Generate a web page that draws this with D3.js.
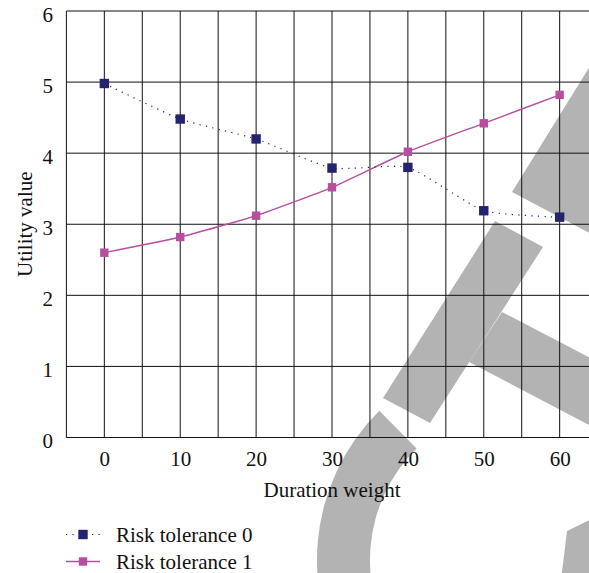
<!DOCTYPE html>
<html>
<head>
<meta charset="utf-8">
<script src="https://cdn.jsdelivr.net/npm/d3@7"></script>
<style>
  html, body { margin: 0; padding: 0; background: #fff; }
  svg { display: block; }
  svg text { font-family: 'Liberation Serif', 'DejaVu Serif', 'Noto Serif', serif !important; font-size: 21px; fill: #111; }
</style>
</head>
<body>
<svg id="chart" width="589" height="573"></svg>
<script>
// ---- data ----
const durationWeights = [0, 10, 20, 30, 40, 50, 60];
const riskTolerance0 = [4.98, 4.48, 4.2, 3.79, 3.8, 3.19, 3.1];
const riskTolerance1 = [2.6, 2.82, 3.12, 3.52, 4.02, 4.42, 4.82];
const seriesNames = ["Risk tolerance 0", "Risk tolerance 1"];
const xTickValues = [0, 10, 20, 30, 40, 50, 60];
const yTickValues = [0, 1, 2, 3, 4, 5, 6];
const xLabel = "Duration weight";
const yLabel = "Utility value";

const svg = d3.select("#chart");

const x = d3.scaleLinear().domain([-5, 65]).range([66.4, 597.6]);
const y = d3.scaleLinear().domain([0, 6]).range([437.5, 11]);

// ---- watermark (decoration behind the chart) ----
const wm = svg.append("g").attr("fill", "#b3b3b3");
const wmPolys = [
  [[631, 0], [512, 192], [650, 265], [650, 0]],
  [[495, 221], [543, 247], [430, 423], [383, 398]],
  [[502, 312], [650, 389], [650, 457], [469, 362]],
  [[567, 531], [600, 515], [600, 580], [561, 580]]
];
wmPolys.forEach(p => wm.append("path").attr("d", "M" + p.map(d => d.join(",")).join("L") + "Z"));
wm.append("path")
  .attr("transform", "translate(527,560)")
  .attr("d", d3.arc()({innerRadius: 157, outerRadius: 210, startAngle: -3.6, endAngle: -0.78}));

// ---- grid ----
const grid = svg.append("g").attr("stroke", "#111").attr("stroke-width", 1).attr("fill", "none");
const xGrid = d3.range(-5, 66, 5);
grid.selectAll("line.v").data(xGrid).join("line")
  .attr("x1", d => x(d)).attr("x2", d => x(d))
  .attr("y1", y(0)).attr("y2", y(6));
grid.selectAll("line.h").data(yTickValues).join("line")
  .attr("x1", x(-5)).attr("x2", x(65))
  .attr("y1", d => y(d)).attr("y2", d => y(d));

// ---- axes labels ----
const xAxis = d3.axisBottom(x).tickValues(xTickValues).tickFormat(d3.format("d")).tickSize(0).tickPadding(0);
const gx = svg.append("g").attr("transform", `translate(0,${y(0)})`).call(xAxis);
gx.attr("font-family", null).attr("font-size", null);
gx.select(".domain").remove();
gx.selectAll("text").attr("y", 0).attr("dy", 0).attr("transform", "translate(0,28.5)");

const yAxis = d3.axisLeft(y).tickValues(yTickValues).tickFormat(d3.format("d")).tickSize(0).tickPadding(0);
const gy = svg.append("g").attr("transform", `translate(${x(-5)},0)`).call(yAxis);
gy.attr("font-family", null).attr("font-size", null);
gy.select(".domain").remove();
gy.selectAll("text").attr("x", -13.5).attr("dy", 0).attr("transform", "translate(0,10)");

svg.append("text").attr("x", (x(-5) + x(65)) / 2).attr("y", 497)
  .attr("text-anchor", "middle").text(xLabel);
svg.append("text").attr("transform", `translate(32,${(y(0) + y(6)) / 2}) rotate(-90)`)
  .attr("text-anchor", "middle").text(yLabel);

// ---- series ----
const navy = "#23236e", pink = "#b64f9f";
const line = d3.line().x(d => x(d[0])).y(d => y(d[1])).curve(d3.curveCardinal.tension(0.5));
const s0 = durationWeights.map((d, i) => [d, riskTolerance0[i]]);
const s1 = durationWeights.map((d, i) => [d, riskTolerance1[i]]);

svg.append("path").attr("d", line(s1)).attr("fill", "none")
  .attr("stroke", pink).attr("stroke-width", 1.4);
svg.append("path").attr("d", line(s0)).attr("fill", "none")
  .attr("stroke", navy).attr("stroke-width", 1.2).attr("stroke-dasharray", "1.2,5.3");

svg.append("g").selectAll("rect").data(s1).join("rect")
  .attr("x", d => x(d[0]) - 4.2).attr("y", d => y(d[1]) - 4.2)
  .attr("width", 8.4).attr("height", 8.4).attr("fill", pink);
svg.append("g").selectAll("rect").data(s0).join("rect")
  .attr("x", d => x(d[0]) - 4.7).attr("y", d => y(d[1]) - 4.7)
  .attr("width", 9.4).attr("height", 9.4).attr("fill", navy);

// ---- legend ----
const legend = svg.append("g");
const legendRows = [
  {name: seriesNames[0], color: navy, dash: "1.2,5.3", width: 1.2, size: 9.4, y: 534.5},
  {name: seriesNames[1], color: pink, dash: null, width: 1.4, size: 8.4, y: 561.5}
];
legendRows.forEach(r => {
  legend.append("line").attr("x1", 66).attr("x2", 100).attr("y1", r.y).attr("y2", r.y)
    .attr("stroke", r.color).attr("stroke-width", r.width)
    .attr("stroke-dasharray", r.dash);
  legend.append("rect").attr("x", 83 - r.size / 2).attr("y", r.y - r.size / 2)
    .attr("width", r.size).attr("height", r.size).attr("fill", r.color);
  legend.append("text").attr("x", 116).attr("y", r.y + 7.5).text(r.name);
});
</script>
</body>
</html>
